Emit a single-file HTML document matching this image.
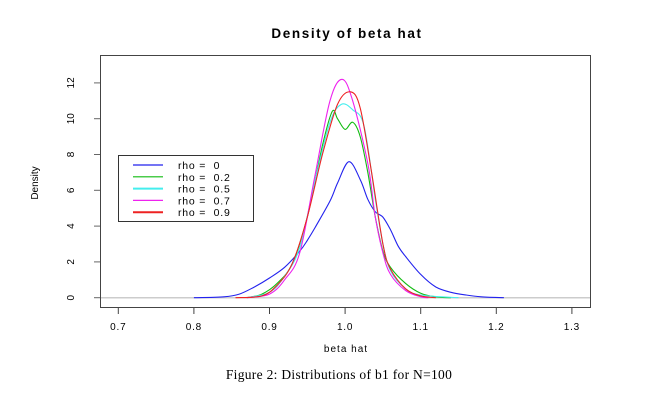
<!DOCTYPE html>
<html><head><meta charset="utf-8"><style>
body{margin:0;background:#fff;width:666px;height:406px;overflow:hidden}
svg text{font-family:"Liberation Sans",sans-serif}
</style></head><body>
<svg width="666" height="406">
<text x="347" y="38" text-anchor="middle" font-weight="bold" font-size="13.5" letter-spacing="1.6">Density of beta hat</text>
<rect x="100.5" y="55.5" width="490" height="252" fill="none" stroke="#444"/>
<g id="axes"></g>
<g id="lines"></g>
<text x="346" y="352" text-anchor="middle" font-size="10" letter-spacing="1">beta hat</text>
<text transform="translate(38,183) rotate(-90)" text-anchor="middle" font-size="10">Density</text>
<g>
<rect x="118.5" y="155.5" width="135" height="66" fill="#fff" stroke="#333"/>
<g id="legend"></g>
</g>
<text x="339" y="379" text-anchor="middle" font-size="13.5" letter-spacing="0.3" style="font-family:'Liberation Serif',serif">Figure 2: Distributions of b1 for N=100</text>
</svg>
<script>
const xTicks=[0.7,0.8,0.9,1.0,1.1,1.2,1.3];
const yTicks=[0,2,4,6,8,10,12];
const seriesNames=["rho =  0","rho =  0.2","rho =  0.5","rho =  0.7","rho =  0.9"];
const seriesColors=["#2222ee","#11bb11","#44eeee","#ee22ee","#ee2222"];
const xBlue=[0.80,0.84,0.86,0.88,0.90,0.92,0.94,0.95,0.96,0.98,0.99,1.005,1.02,1.03,1.04,1.05,1.06,1.07,1.08,1.10,1.12,1.14,1.16,1.18,1.21];
const yBlue=[0,0.05,0.2,0.6,1.1,1.7,2.6,3.2,3.9,5.4,6.4,7.6,6.6,5.5,4.8,4.5,3.8,2.9,2.3,1.3,0.6,0.3,0.15,0.05,0];
const xGreen=[0.87,0.89,0.91,0.93,0.95,0.97,0.983,0.99,1.0,1.01,1.02,1.03,1.04,1.05,1.06,1.08,1.10,1.12,1.14];
const yGreen=[0,0.2,0.8,1.9,4.5,8.5,10.4,10.0,9.4,9.8,9.0,7.0,4.5,2.6,1.7,0.8,0.25,0.05,0];
const xCyan=[0.87,0.90,0.92,0.94,0.96,0.98,0.995,1.01,1.025,1.04,1.05,1.06,1.08,1.10,1.15];
const yCyan=[0,0.3,1.2,2.8,6.5,9.8,10.8,10.5,9.6,5.5,3.0,1.5,0.5,0.15,0];
const xMag=[0.87,0.90,0.92,0.94,0.96,0.98,0.996,1.01,1.03,1.04,1.05,1.06,1.08,1.10,1.11];
const yMag=[0,0.2,1.0,2.5,6.8,11.0,12.2,11.0,7.5,4.5,2.5,1.3,0.4,0.05,0];
const xRed=[0.855,0.89,0.91,0.93,0.95,0.97,0.99,1.007,1.02,1.035,1.05,1.06,1.08,1.10,1.12];
const yRed=[0,0.1,0.7,1.9,4.5,8.0,10.8,11.5,10.6,7.0,3.0,1.6,0.5,0.1,0];
const seriesX=[xBlue,xGreen,xCyan,xMag,xRed];
const seriesY=[yBlue,yGreen,yCyan,yMag,yRed];
const NS="http://www.w3.org/2000/svg";
function sx(v){return 118.3+(v-0.7)*756;}
function sy(v){return 297.7-v*17.9;}
function mk(t,a,p){const e=document.createElementNS(NS,t);for(const k in a)e.setAttribute(k,a[k]);p.appendChild(e);return e;}
function smooth(P){
 let d='M'+P[0][0].toFixed(1)+','+P[0][1].toFixed(1);
 for(let i=0;i<P.length-1;i++){
  const p0=P[Math.max(0,i-1)],p1=P[i],p2=P[i+1],p3=P[Math.min(P.length-1,i+2)];
  const c1=[p1[0]+(p2[0]-p0[0])/6,p1[1]+(p2[1]-p0[1])/6];
  const c2=[p2[0]-(p3[0]-p1[0])/6,p2[1]-(p3[1]-p1[1])/6];
  d+=' C'+c1.map(v=>v.toFixed(1)).join(',')+' '+c2.map(v=>v.toFixed(1)).join(',')+' '+p2.map(v=>v.toFixed(1)).join(',');
 }
 return d;
}
const ax=document.getElementById('axes');
const zl=mk('line',{x1:101,x2:590,y1:sy(0),y2:sy(0),stroke:'#ccc','stroke-width':1.5},ax);


xTicks.forEach(v=>{
 const l=mk('line',{x1:sx(v),x2:sx(v),y1:308,y2:314,stroke:'#444'},ax);
 
 
 const t=mk('text',{x:sx(v),y:330,'text-anchor':'middle','font-size':10,'letter-spacing':0.8},ax);
 t.textContent=v.toFixed(1);
 
 
});
yTicks.forEach(v=>{
 const l=mk('line',{x1:94,x2:100,y1:sy(v),y2:sy(v),stroke:'#666'},ax);
 
 
 const t=mk('text',{transform:`translate(74,${sy(v)}) rotate(-90)`,'text-anchor':'middle','font-size':10},ax);
 t.textContent=v;
 
 
});
const lg=document.getElementById('lines');
seriesX.forEach((xs,i)=>{
 const P=xs.map((x,j)=>[sx(x),sy(seriesY[i][j])]);
 const p=mk('path',{d:smooth(P),fill:'none',stroke:seriesColors[i],'stroke-width':1.1,'stroke-linejoin':'round'},lg);
 
 
});
const leg=document.getElementById('legend');
seriesNames.forEach((n,i)=>{
 const y=165+i*11.8;
 const l=mk('line',{x1:133,x2:163,y1:y,y2:y,stroke:seriesColors[i],'stroke-width':i==2||i==4?2:1.2},leg);
 
 
 const t=mk('text',{x:178,y:y+4,'font-size':10.5,'letter-spacing':0.8,style:'white-space:pre'},leg);
 t.textContent=n;
 
 
});
</script>
</body></html>
